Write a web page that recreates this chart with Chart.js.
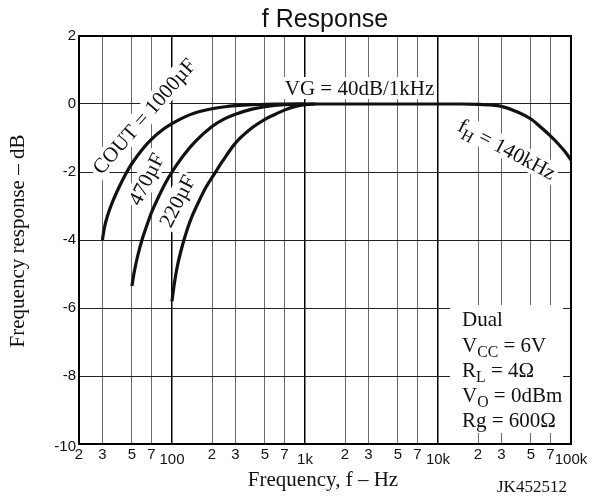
<!DOCTYPE html>
<html>
<head>
<meta charset="utf-8">
<script src="https://cdn.jsdelivr.net/npm/chart.js@4"></script>
<style>
  html, body { margin: 0; padding: 0; background: #fff; }
  #wrap { width: 594px; height: 497px; }
</style>
</head>
<body>
<div id="wrap"><canvas id="resp" width="594" height="497"></canvas></div>
<script>
// values (Hz, dB)
const f1000 = [30, 31, 33, 36, 40, 45, 50, 60, 70, 85, 100, 125, 150, 200, 250, 300, 400, 600, 1000, 10000, 15000, 20000, 25000, 30000, 40000, 50000, 60000, 70000, 80000, 90000, 100000];
const db1000 = [-4.0, -3.65, -3.25, -2.85, -2.45, -2.05, -1.75, -1.33, -1.04, -0.76, -0.58, -0.38, -0.26, -0.14, -0.08, -0.05, -0.02, 0, 0, 0, 0, -0.01, -0.03, -0.07, -0.24, -0.44, -0.7, -0.94, -1.17, -1.4, -1.65];
const f470 = [50, 52, 55, 60, 65, 70, 80, 90, 100, 120, 150, 200, 250, 300, 400, 500, 700, 1000];
const db470 = [-5.35, -4.95, -4.5, -3.95, -3.55, -3.2, -2.7, -2.3, -2.0, -1.55, -1.1, -0.66, -0.43, -0.3, -0.15, -0.08, -0.02, 0];
const f220 = [100, 104, 110, 120, 130, 140, 160, 180, 205, 240, 300, 400, 500, 600, 700, 850, 1000, 1200];
const db220 = [-5.8, -5.3, -4.75, -4.15, -3.7, -3.35, -2.85, -2.45, -2.1, -1.68, -1.15, -0.7, -0.45, -0.3, -0.18, -0.07, -0.02, 0];

const xTicks = [20, 30, 50, 70, 100, 200, 300, 500, 700, 1000, 2000, 3000, 5000, 7000, 10000, 20000, 30000, 50000, 70000, 100000];
const xTickLabels = ["2", "3", "5", "7", "100", "2", "3", "5", "7", "1k", "2", "3", "5", "7", "10k", "2", "3", "5", "7", "100k"];
const yTicks = [-10, -8, -6, -4, -2, 0, 2];
const majorX = [100, 1000, 10000];

const SERIF = '"Liberation Serif", "Times New Roman", serif';
const SANS = '"Liberation Sans", Arial, sans-serif';

function pts(xs, ys) {
  return xs.map((x, i) => ({ x: x, y: ys[i] }));
}

function curve(label, xs, ys) {
  return {
    label: label,
    data: pts(xs, ys),
    borderColor: "#111",
    borderWidth: 3.2,
    pointRadius: 0,
    fill: false,
    cubicInterpolationMode: "monotone",
  };
}

// text with subscripts, parts = [[text, isSub], ...]
function drawRich(ctx, parts, x, y, size, align) {
  let w = 0;
  parts.forEach((p) => {
    ctx.font = (p[1] ? size * 0.75 : size) + "px " + SERIF;
    w += ctx.measureText(p[0]).width;
  });
  let cx = align === "center" ? x - w / 2 : x;
  parts.forEach((p) => {
    ctx.font = (p[1] ? size * 0.75 : size) + "px " + SERIF;
    ctx.fillText(p[0], cx, p[1] ? y + size * 0.25 : y);
    cx += ctx.measureText(p[0]).width;
  });
}

function whiteBox(ctx, cx, cy, w, h, deg) {
  ctx.save();
  ctx.translate(cx, cy);
  ctx.rotate((deg * Math.PI) / 180);
  ctx.fillStyle = "#fff";
  ctx.fillRect(-w / 2, -h / 2, w, h);
  ctx.restore();
}

function rotLabel(ctx, parts, cx, cy, deg) {
  ctx.save();
  ctx.translate(cx, cy);
  ctx.rotate((deg * Math.PI) / 180);
  ctx.textAlign = "left";
  ctx.textBaseline = "alphabetic";
  drawRich(ctx, parts, 0, 7, 21, "center");
  ctx.restore();
}

const decor = {
  id: "decor",
  beforeDatasetsDraw(chart) {
    const ctx = chart.ctx;
    whiteBox(ctx, 144, 116, 152, 22, -49);
    whiteBox(ctx, 146, 179, 60, 22, -63);
    whiteBox(ctx, 177, 201, 60, 22, -63);
    whiteBox(ctx, 507, 149, 112, 22, 28);
    ctx.fillStyle = "#fff";
    ctx.fillRect(283, 77, 153, 22);
    ctx.fillRect(450, 305, 113, 128);
  },
  afterDraw(chart) {
    const ctx = chart.ctx;
    const a = chart.chartArea;
    const xs = chart.scales.x;
    const ys = chart.scales.y;
    ctx.save();

    ctx.strokeStyle = "#000";
    ctx.lineWidth = 2;
    ctx.strokeRect(a.left, a.top, a.right - a.left, a.bottom - a.top);

    ctx.fillStyle = "#111";
    // title
    ctx.font = "25px " + SANS;
    ctx.textAlign = "center";
    ctx.textBaseline = "alphabetic";
    ctx.fillText("f Response", (a.left + a.right) / 2, 27);

    // tick labels
    ctx.font = "15px " + SANS;
    ctx.textBaseline = "middle";
    ctx.textAlign = "right";
    yTicks.forEach((v) => {
      ctx.fillText(String(v), 76, ys.getPixelForValue(v) + (v === -10 ? 3 : 0));
    });
    ctx.textAlign = "center";
    xTicks.forEach((v, i) => {
      const lab = xTickLabels[i];
      const dec = lab.length > 1;
      ctx.fillText(lab, xs.getPixelForValue(v), dec ? 460 : 455);
    });

    // axis titles
    ctx.textBaseline = "alphabetic";
    ctx.font = "21px " + SERIF;
    ctx.fillText("Frequency, f \u2013 Hz", 323, 486);
    ctx.save();
    ctx.translate(24, 241);
    ctx.rotate(-Math.PI / 2);
    ctx.fillText("Frequency response \u2013 dB", 0, 0);
    ctx.restore();
    ctx.font = "17px " + SERIF;
    ctx.textAlign = "left";
    ctx.fillText("JK452512", 497, 492);

    // curve labels
    rotLabel(ctx, [["COUT = 1000\u00b5F"]], 144, 116, -49);
    rotLabel(ctx, [["470\u00b5F"]], 146, 179, -63);
    rotLabel(ctx, [["220\u00b5F"]], 177, 201, -63);
    rotLabel(ctx, [["f"], ["H", true], [" = 140kHz"]], 507, 149, 28);
    ctx.textAlign = "left";
    drawRich(ctx, [["VG = 40dB/1kHz"]], 359.5, 95, 21, "center");

    // conditions box
    drawRich(ctx, [["Dual"]], 462, 326, 21);
    drawRich(ctx, [["V"], ["CC", true], [" = 6V"]], 462, 351.5, 21);
    drawRich(ctx, [["R"], ["L", true], [" = 4\u03a9"]], 462, 377, 21);
    drawRich(ctx, [["V"], ["O", true], [" = 0dBm"]], 462, 402, 21);
    drawRich(ctx, [["Rg = 600\u03a9"]], 462, 427, 21);
    ctx.restore();
  },
};

new Chart(document.getElementById("resp"), {
  type: "line",
  data: {
    datasets: [
      curve("1000\u00b5F", f1000, db1000),
      curve("470\u00b5F", f470, db470),
      curve("220\u00b5F", f220, db220),
    ],
  },
  options: {
    responsive: false,
    animation: false,
    devicePixelRatio: 1,
    layout: { padding: { left: 79, right: 23, top: 36, bottom: 53 } },
    plugins: {
      legend: { display: false },
      title: { display: false },
      tooltip: { enabled: false },
    },
    scales: {
      x: {
        type: "logarithmic",
        min: 20,
        max: 100000,
        afterBuildTicks: (s) => {
          s.ticks = xTicks.map((v) => ({ value: v }));
        },
        ticks: { display: false },
        grid: {
          drawTicks: false,
          color: (c) => (c.tick && majorX.includes(c.tick.value) ? "#000" : "#6a6a6a"),
          lineWidth: (c) => (c.tick && majorX.includes(c.tick.value) ? 1.5 : 1),
        },
        border: { display: false },
      },
      y: {
        type: "linear",
        min: -10,
        max: 2,
        afterBuildTicks: (s) => {
          s.ticks = yTicks.map((v) => ({ value: v }));
        },
        ticks: { display: false },
        grid: { drawTicks: false, color: "#222", lineWidth: 1 },
        border: { display: false },
      },
    },
  },
  plugins: [decor],
});
</script>
</body>
</html>
